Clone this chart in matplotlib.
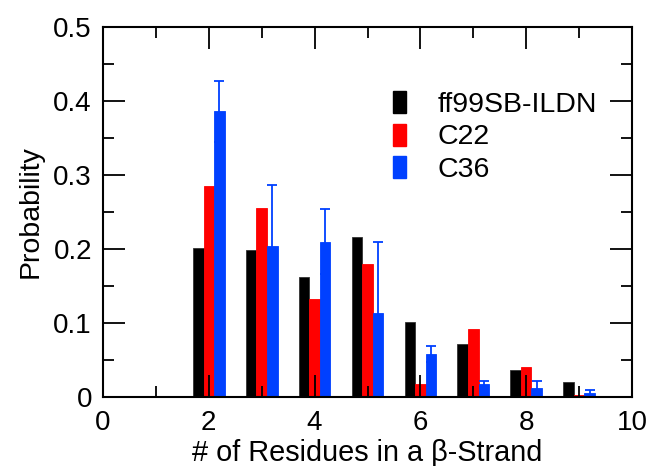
import matplotlib
matplotlib.use("Agg")
import matplotlib.pyplot as plt
from matplotlib.patches import Patch
from matplotlib.ticker import MultipleLocator
import numpy as np

plt.rcParams['font.family'] = ['Liberation Sans', 'DejaVu Sans']

residues = [2, 3, 4, 5, 6, 7, 8, 9]
ff99 = [0.201, 0.199, 0.162, 0.216, 0.102, 0.071, 0.036, 0.020]
c22 = [0.285, 0.256, 0.133, 0.180, 0.018, 0.092, 0.040, 0.003]
c36 = [0.386, 0.204, 0.210, 0.114, 0.058, 0.018, 0.012, 0.005]
c36_err = [0.041, 0.082, 0.044, 0.096, 0.011, 0.003, 0.009, 0.005]

labels = ["ff99SB-ILDN", "C22", "C36"]
colors = ["#000000", "#ff0000", "#0040ff"]

fig = plt.figure(figsize=(6.51, 4.66), dpi=100)
ax = fig.add_axes([103/651, 1-397/466, (632-103)/651, (397-27)/466])

x = np.array(residues, dtype=float)
w = 0.2
ax.bar(x - w, ff99, width=w, color=colors[0], edgecolor='#333333', linewidth=0.6)
ax.bar(x, c22, width=w, color=colors[1], edgecolor=colors[1], linewidth=0.6)
ax.bar(x + w, c36, width=w, color=colors[2], edgecolor=colors[2], linewidth=0.6)
ax.errorbar(x + w, c36, yerr=c36_err, fmt='none', ecolor=colors[2],
            elinewidth=1.3, capsize=3.6, capthick=1.3)

ax.set_xlim(0, 10)
ax.set_ylim(0, 0.5)
ax.xaxis.set_major_locator(MultipleLocator(2))
ax.xaxis.set_minor_locator(MultipleLocator(1))
ax.yaxis.set_major_locator(MultipleLocator(0.1))
ax.yaxis.set_minor_locator(MultipleLocator(0.05))
ax.set_yticks([0, 0.1, 0.2, 0.3, 0.4, 0.5])
ax.set_yticklabels(["0", "0.1", "0.2", "0.3", "0.4", "0.5"])

ax.tick_params(which='both', direction='in', top=True, right=True, width=1.3, labelsize=20)
ax.tick_params(which='major', length=15.5)
ax.tick_params(which='minor', length=8)
ax.tick_params(axis='y', pad=8)
ax.tick_params(axis='x', pad=9)
for s in ax.spines.values():
    s.set_linewidth(1.5)

ax.set_xlabel("# of Residues in a \u03b2-Strand", fontsize=20.8, labelpad=2.5)
ax.set_ylabel("Probability", fontsize=20.5, labelpad=7)

handles = [Patch(facecolor=c, edgecolor=c) for c in colors]
ax.legend(handles, labels, loc='upper left', bbox_to_anchor=(393/651, 1-91/466),
          bbox_transform=fig.transFigure, frameon=False, fontsize=20.5,
          handlelength=0.46, handleheight=0.81, handletextpad=1.09,
          labelspacing=0.2, borderpad=0, borderaxespad=0)

fig.savefig("out.png", dpi=100)
